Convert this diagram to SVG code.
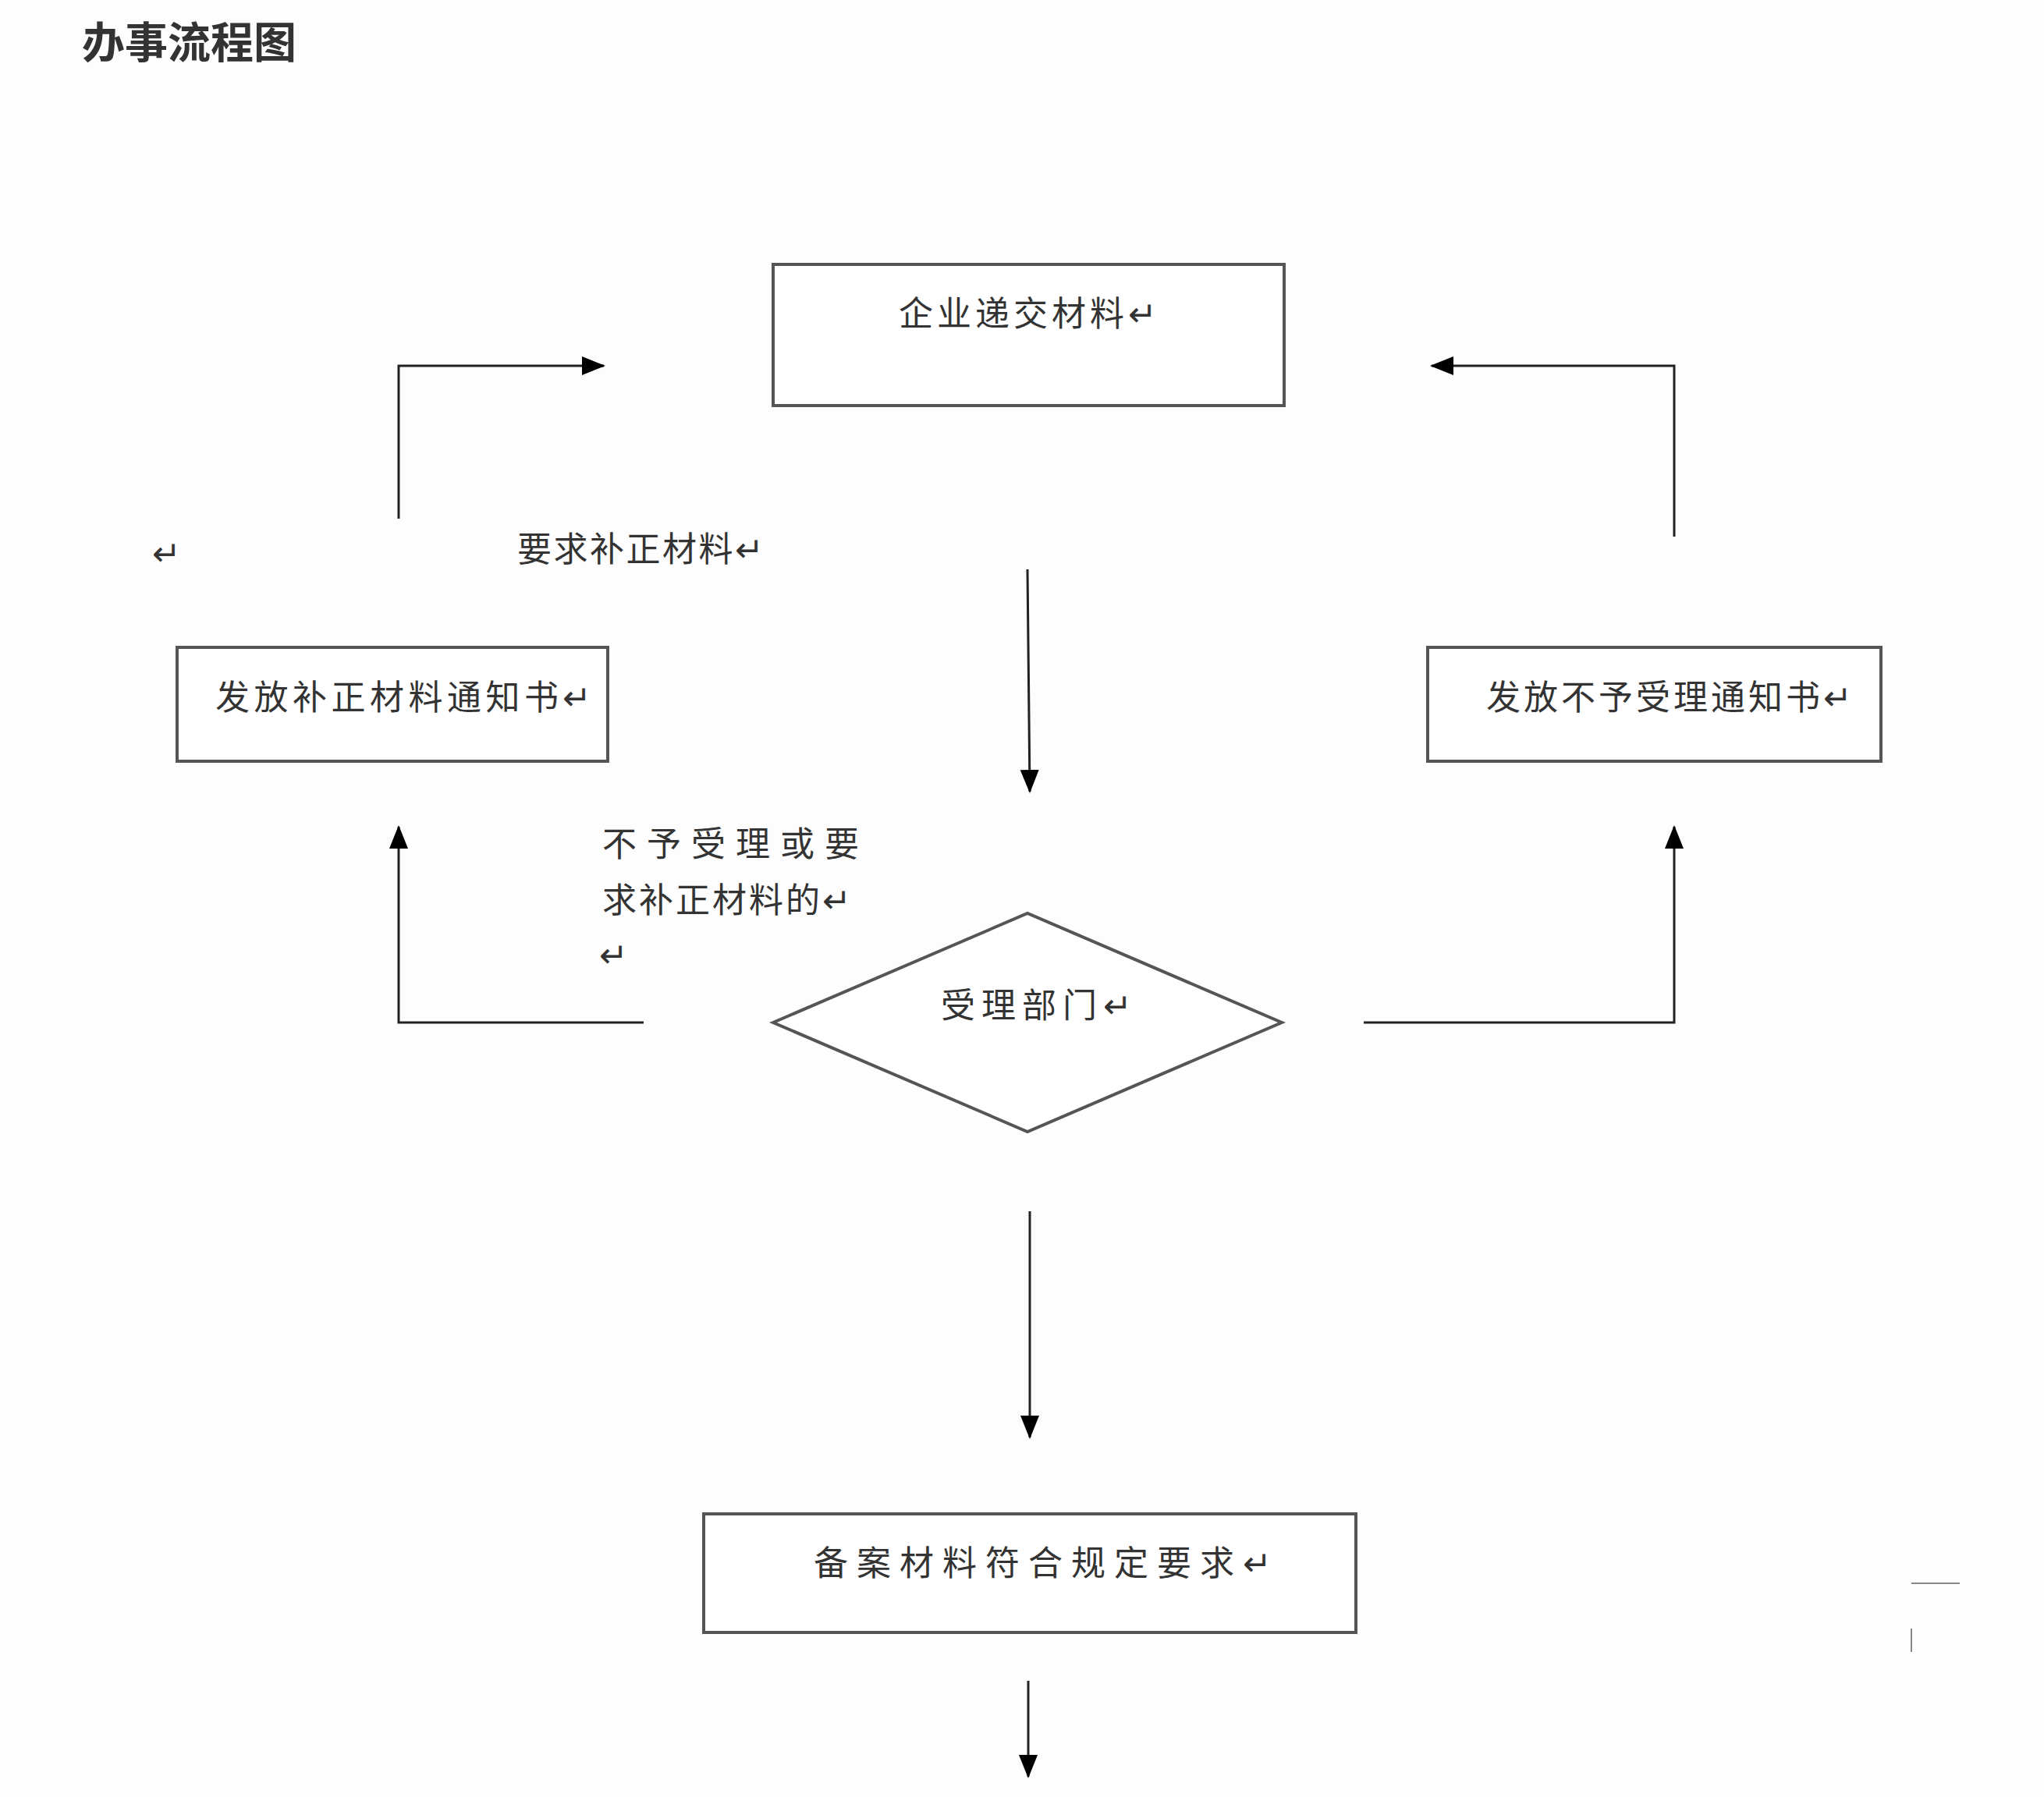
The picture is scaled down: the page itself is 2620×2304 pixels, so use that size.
<svg xmlns="http://www.w3.org/2000/svg" width="2620" height="2304" viewBox="0 0 2620 2304">
<defs>
<marker id="a2" markerWidth="30" markerHeight="30" refX="28" refY="12" orient="auto" markerUnits="userSpaceOnUse"><path d="M0,0 L30,12 L0,24 z" fill="#000"/></marker>
<style>
.box{fill:#fff;stroke:#555;stroke-width:4}
.t{font-family:"Noto Sans CJK SC",sans-serif;font-size:44px;fill:#333}
.c{fill:none;stroke:#222;stroke-width:3}
</style>
</defs>
<rect width="2620" height="2304" fill="#fdfdfd"/>
<text x="105" y="74" font-family="Noto Sans CJK SC,sans-serif" font-size="55" font-weight="bold" fill="#333">办事流程图</text>
<g id="connectors">
<polyline class="c" points="511,665 511,469 774,469" marker-end="url(#a2)"/>
<polyline class="c" points="2146,688 2146,469 1835,469" marker-end="url(#a2)"/>
<line class="c" x1="1317" y1="730" x2="1320" y2="1015" marker-end="url(#a2)"/>
<polyline class="c" points="825,1311 511,1311 511,1060" marker-end="url(#a2)"/>
<polyline class="c" points="1748,1311 2146,1311 2146,1060" marker-end="url(#a2)"/>
<line class="c" x1="1320" y1="1553" x2="1320" y2="1843" marker-end="url(#a2)"/>
<line class="c" x1="1318" y1="2155" x2="1318" y2="2278" marker-end="url(#a2)"/>
</g>
<g id="n1"><rect class="box" x="991" y="339" width="655" height="181"/><text class="t" x="1152" y="418" letter-spacing="5">企业递交材料↵</text></g>
<g id="n2"><rect class="box" x="227" y="830" width="552" height="146"/><text class="t" x="276" y="910" letter-spacing="5.5">发放补正材料通知书↵</text></g>
<g id="n3"><rect class="box" x="1830" y="830" width="581" height="146"/><text class="t" x="1905" y="910" letter-spacing="4">发放不予受理通知书↵</text></g>
<g id="n4"><polygon class="box" points="991,1311 1317,1171 1643,1311 1317,1451"/><text class="t" x="1206" y="1305" letter-spacing="8">受理部门↵</text></g>
<g id="n5"><rect class="box" x="902" y="1941" width="836" height="152"/><text class="t" x="1043" y="2020" letter-spacing="11">备案材料符合规定要求↵</text></g>
<g id="labels">
<text class="t" x="663" y="720" letter-spacing="2.5">要求补正材料↵</text>
<text class="t" x="195" y="725" font-size="30">↵</text>
<text class="t" x="772" y="1098" letter-spacing="13">不予受理或要</text>
<text class="t" x="772" y="1170" letter-spacing="3">求补正材料的↵</text>
<text class="t" x="768" y="1240" font-size="30">↵</text>
</g>
<line x1="2450" y1="2030" x2="2512" y2="2030" stroke="#888" stroke-width="2"/>
<line x1="2450" y1="2088" x2="2450" y2="2118" stroke="#888" stroke-width="2"/>
</svg>
